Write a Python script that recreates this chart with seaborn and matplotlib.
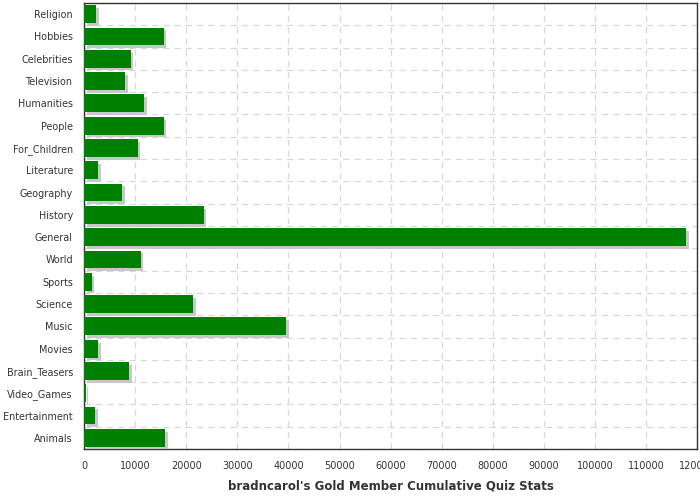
import numpy as np
import pandas as pd
import seaborn as sns
import matplotlib.pyplot as plt
import matplotlib.patheffects as pe

# 数据
categories = ["Religion", "Hobbies", "Celebrities", "Television", "Humanities",
              "People", "For_Children", "Literature", "Geography", "History",
              "General", "World", "Sports", "Science", "Music", "Movies",
              "Brain_Teasers", "Video_Games", "Entertainment", "Animals"]
scores = [2400, 15600, 9100, 8100, 11700, 15600, 10500, 2800, 7500, 23400,
          117900, 11100, 1500, 21300, 39500, 2800, 8900, 300, 2100, 15800]
x_ticks = list(range(0, 120001, 10000))
title = "bradncarol's Gold Member Cumulative Quiz Stats"

df = pd.DataFrame({"Category": categories, "Score": scores})

# ========= 样式 =========
sns.set_style("white")
plt.rcParams['font.family'] = ['DejaVu Sans']
axis_color = '#333333'
grid_color = '#d3dadf'

fig = plt.figure(figsize=(7, 5), dpi=100)
ax = fig.add_axes([0.12, 0.102, 0.876, 0.892])

sns.barplot(data=df, x="Score", y="Category", orient="h", color="#008000",
            saturation=1, width=0.8, ax=ax, zorder=3)

# 阴影
for bar in ax.patches:
    bar.set_path_effects([pe.SimplePatchShadow(offset=(2, -2), shadow_rgbFace='#c8c8c8', alpha=1),
                          pe.Normal()])
    bar.set_linewidth(0)

ax.set_xlim(0, 120000)
ax.set_ylim(len(categories) - 0.5, -0.5)
ax.set_xticks(x_ticks)
ax.set_xticklabels([str(t) for t in x_ticks])

# 类别分隔线（次刻度）
ax.set_yticks(np.arange(-0.5, len(categories), 1), minor=True)
ax.tick_params(axis='y', which='major', length=0, labelsize=6.9, colors=axis_color, pad=8)
ax.tick_params(axis='y', which='minor', length=6.5, width=1, color=axis_color, direction='out')
ax.tick_params(axis='x', which='major', length=5, width=1, color=axis_color,
               labelsize=7, labelcolor=axis_color, direction='out')

ax.grid(True, axis='x', which='major', color=grid_color, linestyle=(0, (5, 4)), linewidth=0.9, zorder=0)
ax.grid(True, axis='y', which='minor', color=grid_color, linestyle=(0, (5, 4)), linewidth=0.9, zorder=0)
ax.set_axisbelow(True)

for s in ax.spines.values():
    s.set_color(axis_color)
    s.set_linewidth(1)

ax.set_ylabel("")
ax.set_xlabel(title, fontsize=8.5, fontweight='bold', color=axis_color, labelpad=6)

fig.savefig("out.png", dpi=100)
